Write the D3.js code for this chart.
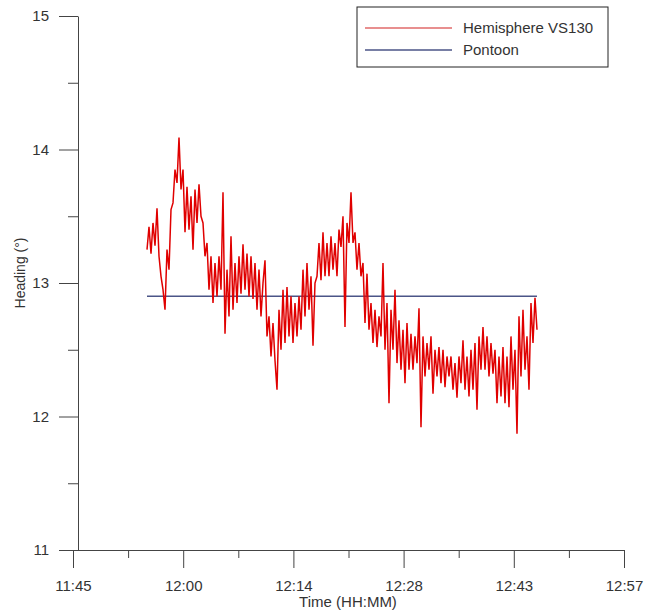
<!DOCTYPE html>
<html>
<head>
<meta charset="utf-8">
<script src="https://cdn.jsdelivr.net/npm/d3@7"></script>
<style>
  body { margin: 0; background: #fff; }
  text { font-family: "Liberation Sans", Arial, sans-serif; fill: #333; }
  .axis path, .axis line { stroke: #444; }
</style>
</head>
<body>
<div id="chartArea"></div>
<script>
// minutes after 11:45
let xMajor = [0, 14.4, 28.8, 43.2, 57.6, 72]
let xTickLabels = ['11:45', '12:00', '12:14', '12:28', '12:43', '12:57']
let xMinor = [7.2, 21.6, 36, 50.4, 64.8]
let yMajor = [11, 12, 13, 14, 15]
let yMinor = [11.5, 12.5, 13.5, 14.5]

let hemiStart = 9.67
let hemiEnd = 60.63
let hemiValues = [
  13.25,13.42,13.22,13.45,13.28,13.56,13.2,13.05,12.95,12.8,
  13.25,13.1,13.55,13.6,13.85,13.75,14.09,13.7,13.85,13.38,
  13.72,13.4,13.65,13.25,13.7,13.45,13.74,13.5,13.45,13.2,
  13.3,12.95,13.2,12.85,13.15,12.9,13.2,12.95,13.68,12.62,
  13.1,12.75,13.35,12.8,13.15,12.85,13.2,12.92,13.29,12.95,
  13.22,12.9,13.2,12.88,13.15,12.8,13.1,12.75,13.0,13.17,
  12.6,12.75,12.45,12.7,12.42,12.2,12.8,12.5,12.95,12.55,
  12.97,12.6,12.9,12.55,12.85,12.6,12.9,12.65,13.1,12.75,
  13.15,12.8,13.05,12.53,13.0,13.05,13.3,13.02,13.38,13.05,
  13.3,13.05,13.35,13.1,13.3,13.05,13.4,13.27,13.5,12.67,
  13.45,13.3,13.68,13.3,13.38,13.1,13.3,13.05,13.15,12.7,
  13.07,12.65,12.85,12.55,12.8,12.52,12.75,12.6,13.15,12.5,
  12.85,12.1,12.8,12.5,12.95,12.4,12.72,12.35,12.65,12.25,
  12.7,12.35,12.62,12.35,12.6,12.4,12.81,11.92,12.6,12.3,
  12.55,12.35,12.6,12.17,12.5,12.3,12.52,12.25,12.5,12.22,
  12.45,12.3,12.45,12.2,12.4,12.14,12.45,12.25,12.57,12.2,
  12.45,12.15,12.5,12.2,12.55,12.05,12.6,12.35,12.67,12.35,
  12.6,12.3,12.55,12.32,12.5,12.1,12.45,12.15,12.52,12.1,
  12.45,12.07,12.6,12.2,12.5,11.87,12.75,12.3,12.8,12.35,
  12.6,12.2,12.85,12.55,12.89,12.65
]
let pontoonTimes = [9.67, 60.63]
let pontoonValues = [12.9, 12.9]

let svgWidth = 645
let svgHeight = 613

let xScale = d3.scaleLinear().domain([0, 72]).range([73, 624])
let yScale = d3.scaleLinear().domain([11, 15]).range([550, 16])

let hemiData = hemiValues.map((v, i) => ({
  t: hemiStart + i * (hemiEnd - hemiStart) / (hemiValues.length - 1),
  v: v
}))
let pontoonData = pontoonTimes.map((t, i) => ({ t: t, v: pontoonValues[i] }))

let svg = d3.select('#chartArea')
  .append('svg')
  .attr('width', svgWidth)
  .attr('height', svgHeight)

// x axis
let xAxis = svg.append('g')
  .attr('class', 'axis')
  .attr('transform', 'translate(0,550)')
  .call(d3.axisBottom(xScale)
    .tickValues(xMajor)
    .tickSize(18)
    .tickSizeOuter(0)
    .tickPadding(12)
    .tickFormat((d, i) => xTickLabels[i]))
xAxis.selectAll('text').style('font-size', '15px')

svg.append('g')
  .attr('class', 'axis')
  .attr('transform', 'translate(0,550)')
  .call(d3.axisBottom(xScale).tickValues(xMinor).tickSize(8).tickFormat(''))
  .select('.domain').remove()

// y axis
let yAxis = svg.append('g')
  .attr('class', 'axis')
  .attr('transform', 'translate(78,0)')
  .call(d3.axisLeft(yScale)
    .tickValues(yMajor)
    .tickSize(19)
    .tickSizeOuter(0)
    .tickPadding(10)
    .tickFormat(d3.format('d')))
yAxis.selectAll('text').style('font-size', '15px')

svg.append('g')
  .attr('class', 'axis')
  .attr('transform', 'translate(78,0)')
  .call(d3.axisLeft(yScale).tickValues(yMinor).tickSize(10).tickFormat(''))
  .select('.domain').remove()

svg.selectAll('.axis path, .axis line').attr('stroke', '#444')

// axis titles
svg.append('text')
  .attr('x', 348)
  .attr('y', 607)
  .attr('text-anchor', 'middle')
  .style('font-size', '15px')
  .text('Time (HH:MM)')

svg.append('text')
  .attr('transform', 'translate(25,273) rotate(-90)')
  .attr('text-anchor', 'middle')
  .style('font-size', '14px')
  .text('Heading (°)')

// lines
let line = d3.line()
  .x(d => xScale(d.t))
  .y(d => yScale(d.v))

svg.append('path')
  .datum(pontoonData)
  .attr('d', line)
  .attr('fill', 'none')
  .attr('stroke', '#4b5587')
  .attr('stroke-width', 1.5)

svg.append('path')
  .datum(hemiData)
  .attr('d', line)
  .attr('fill', 'none')
  .attr('stroke', '#e00000')
  .attr('stroke-width', 1.5)

// legend
let legendItems = [
  { name: 'Hemisphere VS130', color: '#e06a6a' },
  { name: 'Pontoon', color: '#4b5587' }
]
let legend = svg.append('g').attr('transform', 'translate(357,7)')
legend.append('rect')
  .attr('width', 251)
  .attr('height', 60)
  .attr('fill', '#fff')
  .attr('stroke', '#222')
  .attr('stroke-width', 1)

let li = legend.selectAll('.item')
  .data(legendItems)
  .enter()
  .append('g')
  .attr('transform', (d, i) => 'translate(0,' + (21 + i * 22) + ')')
li.append('line')
  .attr('x1', 8).attr('x2', 95)
  .attr('stroke', d => d.color)
  .attr('stroke-width', 1.3)
li.append('text')
  .attr('x', 106)
  .attr('dy', '0.35em')
  .style('font-size', '15px')
  .text(d => d.name)
</script>
</body>
</html>
